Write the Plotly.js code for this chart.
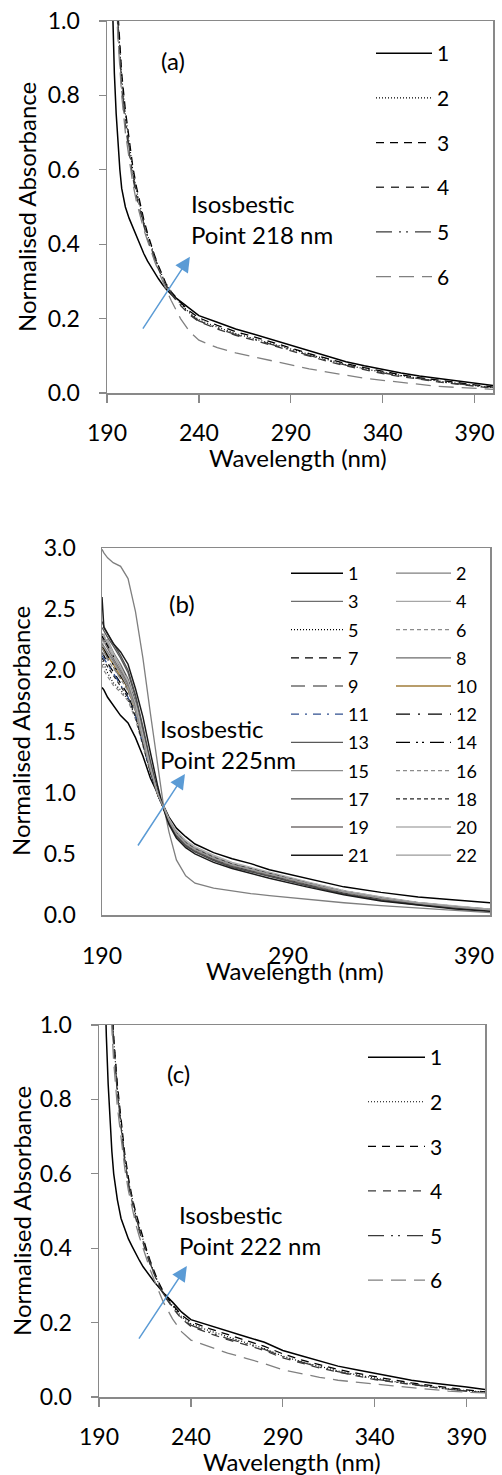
<!DOCTYPE html>
<html>
<head>
<meta charset="utf-8">
<script src="https://cdn.plot.ly/plotly-3.0.1.min.js"></script>
<style>
html,body{margin:0;padding:0;background:#fff;}
#chart{width:502px;height:1475px;}
</style>
</head>
<body>
<div id="chart"></div>
<script>
// ---------- DATA ----------
// Panel (a)
const lamA = [190,192,193,194,195,196,197,198,200,202,204,206,208,210,212,214,216,218,220,222,225,230,235,240,250,260,270,280,290,300,310,320,330,340,350,360,370,380,390,400];
const a1 = [1.6,1.2,1.0,0.86,0.75,0.66,0.6,0.55,0.5,0.47,0.445,0.42,0.395,0.375,0.355,0.338,0.322,0.307,0.293,0.28,0.265,0.246,0.226,0.208,0.19,0.172,0.158,0.143,0.127,0.112,0.097,0.084,0.073,0.063,0.054,0.046,0.039,0.032,0.026,0.02];
const a2 = [2.0,1.6,1.4,1.25,1.12,1.0,0.92,0.85,0.75,0.67,0.6,0.545,0.5,0.46,0.425,0.395,0.365,0.34,0.315,0.293,0.27,0.24,0.215,0.197,0.177,0.16,0.146,0.132,0.117,0.102,0.088,0.076,0.065,0.055,0.047,0.039,0.032,0.026,0.02,0.015];
const a3 = [2.1,1.65,1.45,1.28,1.14,1.02,0.93,0.86,0.76,0.68,0.61,0.555,0.508,0.467,0.43,0.398,0.368,0.342,0.317,0.295,0.272,0.243,0.22,0.202,0.182,0.165,0.151,0.137,0.121,0.106,0.092,0.079,0.068,0.058,0.049,0.041,0.034,0.028,0.022,0.016];
const a4 = [1.9,1.55,1.36,1.2,1.08,0.97,0.89,0.82,0.72,0.645,0.58,0.53,0.487,0.45,0.415,0.385,0.357,0.333,0.31,0.289,0.265,0.235,0.21,0.192,0.172,0.155,0.142,0.128,0.113,0.098,0.085,0.073,0.062,0.052,0.044,0.036,0.03,0.024,0.018,0.013];
const a5 = [1.95,1.58,1.38,1.22,1.1,0.99,0.9,0.83,0.735,0.655,0.59,0.54,0.495,0.455,0.42,0.39,0.362,0.337,0.313,0.291,0.267,0.237,0.212,0.194,0.174,0.157,0.144,0.13,0.115,0.1,0.087,0.075,0.064,0.054,0.046,0.038,0.031,0.025,0.019,0.014];
const a6 = [1.85,1.5,1.32,1.17,1.05,0.95,0.87,0.8,0.7,0.625,0.565,0.515,0.475,0.44,0.41,0.38,0.353,0.328,0.303,0.28,0.248,0.2,0.165,0.142,0.122,0.108,0.097,0.086,0.075,0.065,0.056,0.047,0.04,0.034,0.028,0.023,0.018,0.015,0.012,0.01];

// Panel (b)
const lamB = [190,191,193,196,200,204,208,212,216,220,223,226,230,235,240,250,260,270,280,300,320,340,360,380,400];
const b1  = [1.86,1.84,1.78,1.72,1.63,1.57,1.45,1.30,1.12,0.99,0.89,0.80,0.71,0.64,0.58,0.51,0.46,0.42,0.37,0.30,0.23,0.185,0.148,0.122,0.098];
const b2  = [2.99,2.96,2.92,2.88,2.85,2.75,2.48,2.1,1.65,1.2,0.9,0.68,0.45,0.32,0.26,0.22,0.195,0.175,0.158,0.128,0.1,0.077,0.057,0.037,0.018];
const b3  = [2.3,2.28,2.22,2.15,2.05,1.93,1.74,1.48,1.22,1.0,0.88,0.77,0.66,0.58,0.53,0.46,0.41,0.37,0.335,0.26,0.19,0.14,0.1,0.07,0.045];
const b4  = [2.25,2.3,2.2,2.12,2.02,1.9,1.72,1.46,1.2,0.99,0.88,0.78,0.68,0.6,0.55,0.48,0.42,0.38,0.34,0.265,0.195,0.145,0.1,0.07,0.045];
const b5  = [2.1,2.05,1.98,1.9,1.84,1.76,1.62,1.4,1.17,0.98,0.88,0.78,0.67,0.59,0.54,0.47,0.415,0.375,0.34,0.265,0.195,0.14,0.1,0.068,0.042];
const b6  = [2.05,2.0,1.95,1.88,1.82,1.75,1.6,1.39,1.16,0.98,0.88,0.78,0.68,0.6,0.55,0.48,0.42,0.38,0.345,0.27,0.2,0.145,0.102,0.07,0.044];
const b7  = [2.15,2.12,2.06,1.99,1.9,1.8,1.64,1.41,1.17,0.98,0.88,0.77,0.66,0.58,0.53,0.46,0.41,0.37,0.335,0.26,0.19,0.138,0.097,0.066,0.04];
const b8  = [2.22,2.2,2.15,2.08,1.98,1.87,1.69,1.44,1.19,0.99,0.88,0.77,0.66,0.58,0.53,0.46,0.405,0.365,0.33,0.255,0.185,0.135,0.095,0.064,0.04];
const b9  = [2.18,2.15,2.1,2.03,1.94,1.84,1.67,1.43,1.18,0.98,0.88,0.775,0.665,0.585,0.535,0.465,0.41,0.37,0.335,0.26,0.19,0.138,0.097,0.066,0.041];
const b10 = [2.2,2.17,2.12,2.05,1.95,1.85,1.67,1.42,1.18,0.98,0.88,0.77,0.66,0.58,0.53,0.46,0.405,0.365,0.33,0.255,0.185,0.134,0.094,0.063,0.039];
const b11 = [2.12,2.1,2.05,1.98,1.88,1.78,1.63,1.41,1.17,0.98,0.88,0.775,0.665,0.585,0.535,0.465,0.41,0.37,0.335,0.26,0.19,0.138,0.097,0.066,0.041];
const b12 = [2.28,2.25,2.2,2.12,2.03,1.92,1.73,1.47,1.21,0.99,0.88,0.765,0.655,0.575,0.525,0.455,0.4,0.36,0.325,0.25,0.18,0.13,0.09,0.06,0.037];
const b13 = [2.35,2.32,2.27,2.2,2.1,1.98,1.78,1.52,1.24,1.0,0.88,0.76,0.65,0.57,0.52,0.45,0.395,0.355,0.32,0.245,0.175,0.125,0.087,0.058,0.035];
const b14 = [2.2,2.18,2.12,2.05,1.96,1.86,1.68,1.43,1.18,0.98,0.88,0.77,0.66,0.58,0.53,0.46,0.405,0.365,0.33,0.255,0.185,0.135,0.095,0.064,0.04];
const b15 = [2.25,2.24,2.25,2.15,2.02,1.9,1.72,1.46,1.2,0.99,0.88,0.775,0.67,0.59,0.54,0.47,0.415,0.375,0.34,0.262,0.192,0.14,0.098,0.067,0.042];
const b16 = [2.15,2.13,2.08,2.02,1.93,1.83,1.66,1.42,1.18,0.98,0.88,0.78,0.67,0.59,0.54,0.47,0.415,0.375,0.34,0.265,0.195,0.142,0.1,0.068,0.043];
const b17 = [2.4,2.36,2.3,2.22,2.12,2.0,1.8,1.54,1.26,1.01,0.88,0.755,0.645,0.565,0.515,0.445,0.39,0.35,0.315,0.24,0.17,0.12,0.083,0.055,0.033];
const b18 = [2.1,2.08,2.03,1.96,1.87,1.78,1.62,1.4,1.17,0.98,0.88,0.78,0.67,0.59,0.54,0.47,0.415,0.375,0.34,0.265,0.195,0.142,0.1,0.068,0.043];
const b19 = [2.26,2.23,2.18,2.1,2.0,1.89,1.71,1.45,1.2,0.99,0.88,0.77,0.66,0.58,0.53,0.46,0.405,0.365,0.33,0.255,0.185,0.135,0.095,0.064,0.04];
const b20 = [2.24,2.22,2.24,2.14,2.03,1.91,1.73,1.47,1.21,0.99,0.89,0.79,0.69,0.61,0.56,0.49,0.43,0.39,0.35,0.272,0.2,0.148,0.104,0.072,0.046];
const b21 = [2.6,2.35,2.3,2.22,2.15,2.05,1.85,1.62,1.33,1.05,0.87,0.74,0.63,0.55,0.5,0.43,0.38,0.34,0.3,0.23,0.165,0.115,0.08,0.05,0.03];
const b22 = [2.2,2.19,2.14,2.07,1.97,1.86,1.68,1.43,1.19,0.99,0.88,0.775,0.665,0.585,0.535,0.465,0.41,0.37,0.335,0.26,0.19,0.138,0.097,0.066,0.041];

// Panel (c)
const lamC = [190,192,193,194,195,196,197,198,200,202,204,206,208,210,212,214,216,218,220,222,225,230,235,240,250,260,270,280,290,300,310,320,330,340,350,360,370,380,390,400];
const c1 = [1.7,1.3,1.1,0.97,0.84,0.74,0.66,0.6,0.53,0.48,0.45,0.425,0.405,0.385,0.367,0.35,0.336,0.322,0.31,0.298,0.28,0.255,0.228,0.208,0.192,0.176,0.162,0.147,0.125,0.111,0.097,0.083,0.073,0.063,0.054,0.045,0.038,0.033,0.027,0.02];
const c2 = [2.2,1.8,1.6,1.45,1.3,1.17,1.05,0.96,0.83,0.73,0.645,0.58,0.53,0.49,0.455,0.42,0.39,0.36,0.335,0.31,0.28,0.245,0.215,0.197,0.178,0.161,0.146,0.13,0.11,0.095,0.082,0.07,0.06,0.05,0.042,0.035,0.028,0.022,0.017,0.013];
const c3 = [2.25,1.85,1.63,1.47,1.32,1.19,1.07,0.97,0.84,0.74,0.655,0.59,0.537,0.496,0.46,0.425,0.394,0.364,0.338,0.313,0.283,0.248,0.22,0.202,0.184,0.167,0.152,0.136,0.116,0.1,0.087,0.074,0.064,0.054,0.046,0.038,0.031,0.025,0.019,0.014];
const c4 = [2.1,1.75,1.56,1.41,1.27,1.14,1.03,0.94,0.815,0.715,0.635,0.57,0.52,0.48,0.445,0.412,0.382,0.354,0.33,0.306,0.276,0.24,0.21,0.19,0.171,0.154,0.14,0.125,0.105,0.091,0.078,0.067,0.057,0.047,0.04,0.033,0.026,0.021,0.016,0.012];
const c5 = [2.15,1.78,1.58,1.43,1.28,1.15,1.04,0.95,0.82,0.72,0.64,0.575,0.525,0.485,0.45,0.416,0.386,0.357,0.332,0.308,0.278,0.242,0.212,0.193,0.174,0.157,0.143,0.128,0.108,0.093,0.08,0.068,0.058,0.048,0.041,0.034,0.027,0.021,0.016,0.012];
const c6 = [2.0,1.7,1.5,1.36,1.22,1.1,0.99,0.9,0.78,0.69,0.615,0.555,0.505,0.465,0.43,0.398,0.368,0.34,0.315,0.29,0.255,0.21,0.175,0.153,0.135,0.118,0.104,0.09,0.073,0.062,0.053,0.045,0.039,0.035,0.03,0.025,0.02,0.016,0.013,0.011];

const namesA = ['1','2','3','4','5','6'];
const namesB = ['1','2','3','4','5','6','7','8','9','10','11','12','13','14','15','16','17','18','19','20','21','22'];
const xTicksAC = [190,240,290,340,390];
const xTicksB = [190,290,390];

// ---------- STYLES ----------
const FONT = 'Lato, "Open Sans", sans-serif';
const stylesAC = [
  {color:'#000000', width:1.5, dash:'solid'},
  {color:'#000000', width:1.2, dash:'1px,2px'},
  {color:'#000000', width:1.3, dash:'8px,6px'},
  {color:'#3a3a3a', width:1.3, dash:'8px,7px'},
  {color:'#3a3a3a', width:1.3, dash:'16px,7px,2px,5px,2px,7px'},
  {color:'#808080', width:1.3, dash:'15px,8px'}
];
const stylesB = [
  {color:'#000000', width:1.5, dash:'solid'},
  {color:'#7f7f7f', width:1.3, dash:'solid'},
  {color:'#6e6e6e', width:1.3, dash:'solid'},
  {color:'#a6a6a6', width:1.3, dash:'solid'},
  {color:'#000000', width:1.2, dash:'1px,2px'},
  {color:'#8c8c8c', width:1.2, dash:'4px,3px'},
  {color:'#000000', width:1.3, dash:'8px,6px'},
  {color:'#6b6b6b', width:1.3, dash:'solid'},
  {color:'#6e6e6e', width:1.3, dash:'14px,8px'},
  {color:'#a07d3a', width:1.3, dash:'solid'},
  {color:'#2f4f8f', width:1.3, dash:'8px,6px,2px,6px'},
  {color:'#000000', width:1.3, dash:'14px,8px,2px,8px'},
  {color:'#595959', width:1.3, dash:'solid'},
  {color:'#000000', width:1.3, dash:'14px,6px,2px,4px,2px,6px'},
  {color:'#8c8c8c', width:1.3, dash:'solid'},
  {color:'#8c8c8c', width:1.2, dash:'4px,3px'},
  {color:'#4d4d4d', width:1.3, dash:'solid'},
  {color:'#262626', width:1.2, dash:'4px,3px'},
  {color:'#767171', width:1.3, dash:'solid'},
  {color:'#b0b0b0', width:1.3, dash:'solid'},
  {color:'#1a1a1a', width:1.5, dash:'solid'},
  {color:'#9a9a9a', width:1.3, dash:'solid'}
];

const W = 502, H = 1475;
const px = v => v / W;
const py = v => 1 - v / H;

const seriesA = [a1,a2,a3,a4,a5,a6];
const seriesB = [b1,b2,b3,b4,b5,b6,b7,b8,b9,b10,b11,b12,b13,b14,b15,b16,b17,b18,b19,b20,b21,b22];
const seriesC = [c1,c2,c3,c4,c5,c6];

const traces = [];
seriesA.forEach((s,i)=>traces.push({x:lamA, y:s, xaxis:'x', yaxis:'y', type:'scatter', mode:'lines',
  name:namesA[i], line:stylesAC[i], legend:'legend', legendgroup:'a'+i}));
seriesB.forEach((s,i)=>traces.push({x:lamB, y:s, xaxis:'x2', yaxis:'y2', type:'scatter', mode:'lines',
  name:namesB[i], line:stylesB[i], legend:(i%2===0?'legend2':'legend3'), legendgroup:'b'+i}));
seriesC.forEach((s,i)=>traces.push({x:lamC, y:s, xaxis:'x3', yaxis:'y3', type:'scatter', mode:'lines',
  name:namesA[i], line:stylesAC[i], legend:'legend4', legendgroup:'c'+i}));

const AXC = '#898989';
function xax(domain, ticks, anchor, withTicks, range){
  return {domain:domain, range:range, anchor:anchor, tickvals:ticks, ticktext:ticks.map(String),
    showline:true, linecolor:AXC, linewidth:1.5, mirror:true, showgrid:false, zeroline:false,
    ticks: withTicks?'outside':'', ticklen:8, tickwidth:1.3, tickcolor:AXC,
    tickfont:{family:FONT, size:23, color:'#000'}, ticklabelstandoff: withTicks?11:20};
}
function yax(domain, range, dtick, anchor, withTicks){
  return {domain:domain, range:range, anchor:anchor, dtick:dtick, tick0:0, tickformat:'.1f',
    showline:true, linecolor:AXC, linewidth:1.5, mirror:true, showgrid:false, zeroline:false,
    ticks: withTicks?'outside':'', ticklen:7, tickwidth:1.3, tickcolor:AXC,
    tickfont:{family:FONT, size:23, color:'#000'}, ticklabelstandoff: withTicks?14:20};
}
function leg(xp, yp, iw, size, gap){
  return {x:px(xp), y:py(yp), xanchor:'left', yanchor:'top', orientation:'v',
    traceorder:'grouped', tracegroupgap:gap, itemwidth:iw, bgcolor:'rgba(0,0,0,0)',
    borderwidth:0, font:{family:FONT, size:size, color:'#000'}, itemclick:false, itemdoubleclick:false};
}
function txt(x, y, text, size, extra){
  return Object.assign({xref:'paper', yref:'paper', x:px(x), y:py(y), text:text, showarrow:false,
    xanchor:'center', yanchor:'middle', font:{family:FONT, size:size, color:'#000'}}, extra||{});
}
function arrow(xr, yr, hx, hy, tx, ty){
  return {xref:xr, yref:yr, axref:xr, ayref:yr, x:hx, y:hy, ax:tx, ay:ty, text:'', showarrow:true,
    arrowhead:2, arrowsize:2, arrowwidth:1.5, arrowcolor:'#5b9bd5'};
}

const layout = {
  width:W, height:H, autosize:false, showlegend:true,
  margin:{l:0, r:0, t:0, b:0}, paper_bgcolor:'#fff', plot_bgcolor:'#fff',
  font:{family:FONT, color:'#000'},
  xaxis:  xax([px(107), px(493)], xTicksAC, 'y',  true,  [190,400]),
  yaxis:  yax([py(393), py(21)],  [0,1], 0.2, 'x', true),
  xaxis2: xax([px(102), px(490)], xTicksB,  'y2', false, [190,398.6]),
  yaxis2: yax([py(915), py(548)], [0,3], 0.5, 'x2', false),
  xaxis3: xax([px(99),  px(485)], xTicksAC, 'y3', true,  [190,400]),
  yaxis3: yax([py(1397),py(1025)],[0,1], 0.2, 'x3', true),
  legend:  leg(371, 33, 56, 21, 14.4),
  legend2: leg(286, 555, 52, 18, 1.8),
  legend3: leg(391, 555, 55, 18, 1.8),
  legend4: leg(363, 1037, 57, 21, 14.3),
  annotations:[
    txt(26, 207, 'Normalised Absorbance', 24, {textangle:-90}),
    txt(298, 457, 'Wavelength (nm)', 24),
    txt(173, 60, '(a)', 24),
    txt(189, 219, 'Isosbestic<br>Point 218 nm', 24, {xanchor:'left', align:'left'}),
    arrow('x','y', 235.1, 0.366, 209, 0.169),

    txt(21, 731, 'Normalised Absorbance', 24, {textangle:-90}),
    txt(295, 971, 'Wavelength (nm)', 24),
    txt(182, 603, '(b)', 24),
    txt(158, 744, 'Isosbestic<br>Point 225nm', 24, {xanchor:'left', align:'left'}),
    arrow('x2','y2', 234.6, 1.153, 208.8, 0.556),

    txt(21, 1211, 'Normalised Absorbance', 24, {textangle:-90}),
    txt(292, 1461, 'Wavelength (nm)', 24),
    txt(178, 1073, '(c)', 24),
    txt(177, 1230, 'Isosbestic<br>Point 222 nm', 24, {xanchor:'left', align:'left'}),
    arrow('x3','y3', 237.8, 0.352, 211.2, 0.153)
  ]
};

Plotly.newPlot('chart', traces, layout, {displayModeBar:false, staticPlot:true});
</script>
</body>
</html>
